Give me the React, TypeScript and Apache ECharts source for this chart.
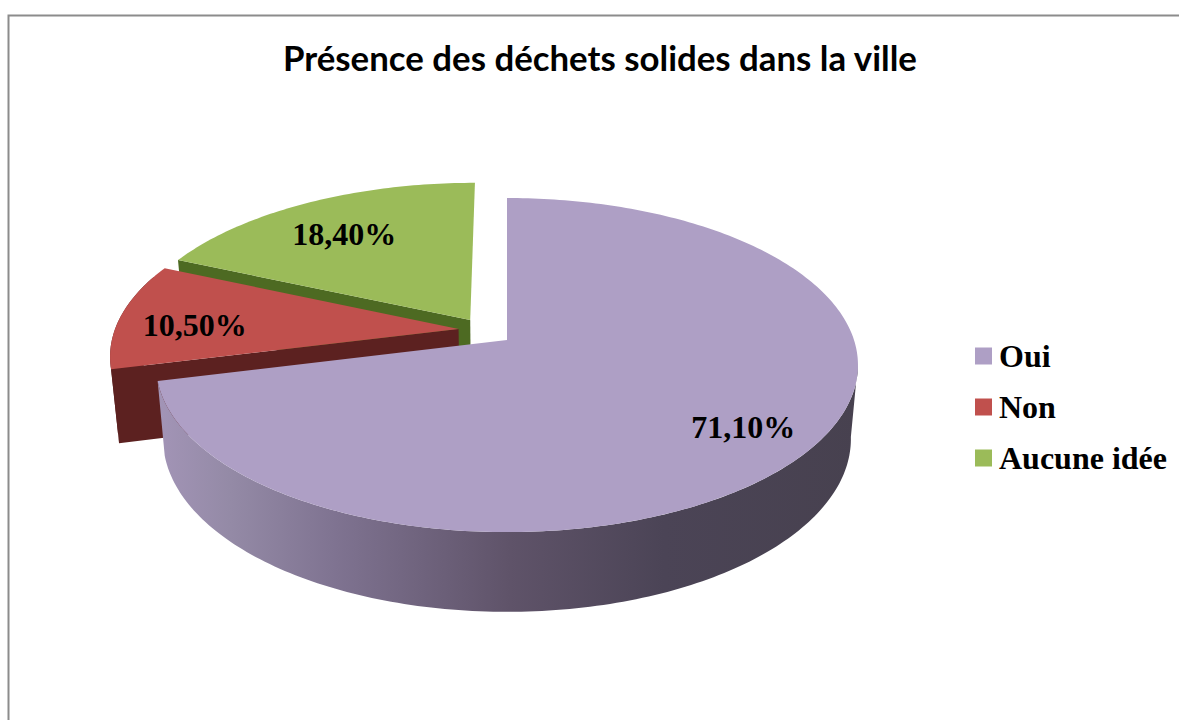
import React, { useEffect, useRef } from "react";
import * as echarts from "echarts";

const chartTitle = "Présence des déchets solides dans la ville";
const categories = ["Oui", "Non", "Aucune idée"];
const shares = [71.1, 10.5, 18.4];

const topColors = ["#ae9fc5", "#c0504d", "#9bbb59"];
const sideColors = ["#4a4454", "#5c2120", "#4d6a22"];

// Perspective model of the pie's disc (unit circle -> screen)
const CX = 507;
const TILT = 0.15;
const TOP = { x: 347, y: 163.3, apexY: 340 };
const BASE = { x: 340, y: 169, apexY: 413 };
// Explosion of each slice in unit-circle space
const EXPLODE = [
  [0, 0],
  [-0.141, 0.068],
  [-0.108, 0.125],
];
const LABEL_RADIUS = [0.8, 0.78, 0.72];
const LABEL_NUDGE = [
  [0, 0],
  [0, 6],
  [-6, 1],
];
const DRAW_ORDER = [2, 1, 0];

const project = (u: number, v: number, f: typeof TOP) => {
  const d = 1 + TILT * v;
  return [CX + (f.x * u) / d, f.apexY - (f.y * v) / d];
};

const sliceAngles = (i: number) => {
  const total = shares.reduce((a, b) => a + b, 0);
  const before = shares.slice(0, i).reduce((a, b) => a + b, 0);
  return [(before / total) * 360, ((before + shares[i]) / total) * 360];
};

const arc = (a0: number, a1: number, off: number[], f: typeof TOP) => {
  const pts: number[][] = [];
  const n = Math.max(2, Math.ceil(Math.abs(a1 - a0)));
  for (let k = 0; k <= n; k++) {
    const t = ((a0 + ((a1 - a0) * k) / n) * Math.PI) / 180;
    pts.push(project(Math.sin(t) + off[0], Math.cos(t) + off[1], f));
  }
  return pts;
};

const label = (v: number) => v.toFixed(2).replace(".", ",") + "%";

const purpleWall = {
  type: "linear",
  global: true,
  x: 160,
  y: 0,
  x2: 860,
  y2: 0,
  colorStops: [
    { offset: 0, color: "#a294b6" },
    { offset: 0.1, color: "#948aa6" },
    { offset: 0.25, color: "#7f7391" },
    { offset: 0.5, color: "#5f5369" },
    { offset: 0.72, color: "#4b4456" },
    { offset: 1, color: "#47414f" },
  ],
};

const renderSlice = (i: number) => () => {
  const [a0, a1] = sliceAngles(i);
  const off = EXPLODE[i];
  const children: any[] = [];
  const sideFill = i === 0 ? purpleWall : sideColors[i];

  // outer wall: front-facing part of the rim, starting at the right silhouette
  const wallFrom = Math.max(a0, 98);
  const wallTo = Math.min(a1, 290);
  if (wallTo > wallFrom) {
    children.push({
      type: "polygon",
      silent: true,
      shape: {
        points: [
          ...arc(wallFrom, wallTo, off, TOP),
          ...arc(wallFrom, wallTo, off, BASE).reverse(),
        ],
      },
      style: { fill: sideFill },
    });
  }
  // radial wall on the front edge of exploded slices
  if (i > 0) {
    const t = (a0 * Math.PI) / 180;
    const ou = Math.sin(t) + off[0];
    const ov = Math.cos(t) + off[1];
    children.push({
      type: "polygon",
      silent: true,
      shape: {
        points: [
          project(ou, ov, TOP),
          project(off[0], off[1], TOP),
          project(off[0], off[1], BASE),
          project(ou, ov, BASE),
        ],
      },
      style: { fill: sideColors[i] },
    });
  }
  // top face
  children.push({
    type: "polygon",
    silent: true,
    shape: {
      points: [project(off[0], off[1], TOP), ...arc(a0, a1, off, TOP)],
    },
    style: { fill: topColors[i] },
  });
  // data label
  const mid = (((a0 + a1) / 2) * Math.PI) / 180;
  const r = LABEL_RADIUS[i];
  const p = project(r * Math.sin(mid) + off[0], r * Math.cos(mid) + off[1], TOP);
  children.push({
    type: "text",
    silent: true,
    x: p[0] + LABEL_NUDGE[i][0],
    y: p[1] + LABEL_NUDGE[i][1],
    style: {
      text: label(shares[i]),
      fontFamily: "Liberation Serif",
      fontWeight: "bold",
      fontSize: 32,
      fill: "#000",
      align: "center",
      verticalAlign: "middle",
    },
  });
  return { type: "group", children };
};

export default function App() {
  const ref = useRef<HTMLDivElement>(null);
  useEffect(() => {
    const chart = echarts.init(ref.current!, undefined, { renderer: "svg" });
    chart.setOption({
      animation: false,
      backgroundColor: "#fff",
      title: {
        text: chartTitle,
        left: 283,
        top: 40,
        padding: 0,
        textStyle: {
          fontFamily: "Lato",
          fontWeight: "bold",
          fontSize: 34.8,
          color: "#000",
        },
      },
      legend: {
        orient: "vertical",
        left: 975,
        top: 340,
        padding: 0,
        itemWidth: 17,
        itemHeight: 17,
        itemGap: 19,
        icon: "rect",
        selectedMode: false,
        data: categories,
        textStyle: {
          fontFamily: "Liberation Serif",
          fontWeight: "bold",
          fontSize: 32,
          color: "#000",
          padding: [0, 0, 0, 2],
        },
      },
      graphic: [
        {
          type: "polyline",
          silent: true,
          shape: {
            points: [
              [8.5, 720],
              [8.5, 15.5],
              [1179, 15.5],
            ],
          },
          style: { stroke: "#8c8c8c", lineWidth: 2, fill: "none" },
        },
      ],
      series: DRAW_ORDER.map((i) => ({
        type: "custom",
        name: categories[i],
        coordinateSystem: "none",
        itemStyle: { color: topColors[i] },
        data: [shares[i]],
        renderItem: renderSlice(i),
      })),
    });
    return () => chart.dispose();
  }, []);
  return (
    <div
      ref={ref}
      style={{ position: "fixed", left: 0, top: 0, width: 1179, height: 720 }}
    />
  );
}
